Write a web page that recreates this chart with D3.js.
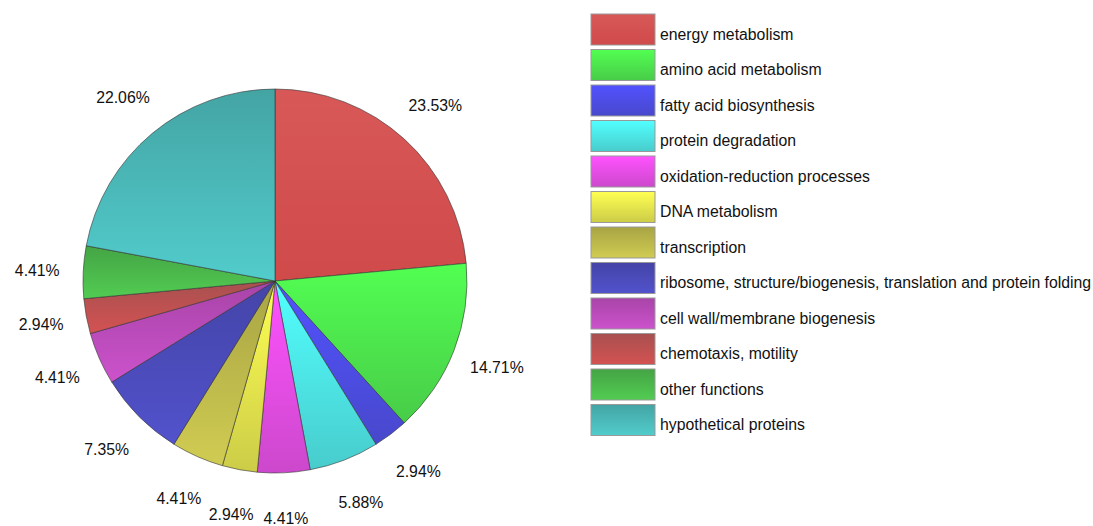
<!DOCTYPE html>
<html>
<head>
<meta charset="utf-8">
<script src="https://cdn.jsdelivr.net/npm/d3@7"></script>
<style>
body { margin: 0; background: #fff; }
text { font-family: "Liberation Sans", Arial, sans-serif; fill: #111; }
</style>
</head>
<body>
<div id="chart"></div>
<script>
const categories = [
    "energy metabolism", "amino acid metabolism", "fatty acid biosynthesis",
    "protein degradation", "oxidation-reduction processes", "DNA metabolism",
    "transcription", "ribosome, structure/biogenesis, translation and protein folding",
    "cell wall/membrane biogenesis", "chemotaxis, motility", "other functions",
    "hypothetical proteins"
];
const values = [23.53, 14.71, 2.94, 5.88, 4.41, 2.94, 4.41, 7.35, 4.41, 2.94, 4.41, 22.06];
// gradient colour pairs, top then bottom
const topColors = ["#d85858", "#52ff52", "#5252ff", "#52ffff", "#ff52ff", "#ffff52",
    "#a8a444", "#4444a8", "#a844a8", "#a85050", "#44a444", "#44a4a4"];
const bottomColors = ["#d04a4a", "#48cc48", "#4848cc", "#48cccc", "#cc48cc", "#cccc48",
    "#d0cc52", "#5252cc", "#cc52cc", "#d45252", "#52cc52", "#52cccc"];

const width = 1093, height = 526;
const cx = 275, cy = 281, radius = 192, labelRadius = 238;

const svg = d3.select("#chart").append("svg")
    .attr("width", width)
    .attr("height", height);

const defs = svg.append("defs");
categories.forEach((c, i) => {
    const g = defs.append("linearGradient")
        .attr("id", "grad" + i)
        .attr("x1", 0).attr("y1", 0).attr("x2", 0).attr("y2", 1);
    g.append("stop").attr("offset", "0%").attr("stop-color", topColors[i]);
    g.append("stop").attr("offset", "100%").attr("stop-color", bottomColors[i]);
});

const data = categories.map((c, i) => ({ name: c, value: values[i], i: i }));

const pie = d3.pie()
    .sort(null)
    .value(d => d.value);

const arc = d3.arc()
    .innerRadius(0)
    .outerRadius(radius);

const labelArc = d3.arc()
    .innerRadius(labelRadius)
    .outerRadius(labelRadius);

const g = svg.append("g")
    .attr("transform", `translate(${cx},${cy})`);

g.selectAll("path")
    .data(pie(data))
    .enter()
    .append("path")
    .attr("d", arc)
    .attr("fill", d => `url(#grad${d.data.i})`)
    .attr("stroke", "#333")
    .attr("stroke-width", 0.6);

g.selectAll("text")
    .data(pie(data))
    .enter()
    .append("text")
    .attr("transform", d => `translate(${labelArc.centroid(d)})`)
    .attr("text-anchor", "middle")
    .attr("dy", "0.35em")
    .style("font-size", "15.8px")
    .text(d => d.data.value.toFixed(2) + "%");

// legend
const legendX = 591, legendY = 14, step = 35.5;
const legend = svg.append("g");

const items = legend.selectAll("g")
    .data(data)
    .enter()
    .append("g")
    .attr("transform", (d, i) => `translate(${legendX},${legendY + i * step})`);

items.append("rect")
    .attr("width", 64)
    .attr("height", 31)
    .attr("fill", d => `url(#grad${d.i})`)
    .attr("stroke", "#999")
    .attr("stroke-width", 1);

items.append("text")
    .attr("x", 69)
    .attr("y", 20)
    .attr("dy", "0.35em")
    .style("font-size", "15.8px")
    .text(d => d.name);
</script>
</body>
</html>
